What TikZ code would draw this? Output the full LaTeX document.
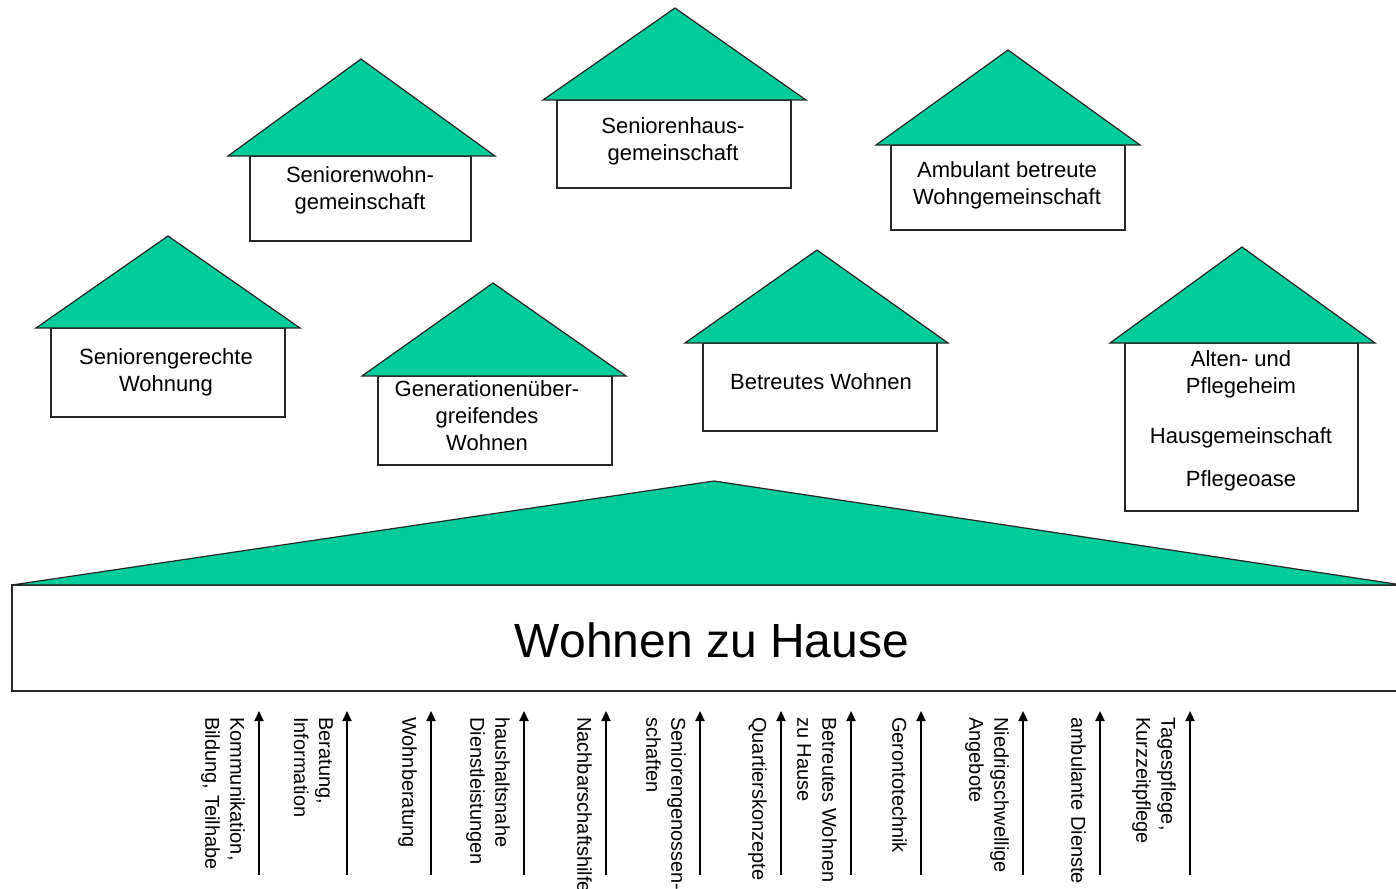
\documentclass[tikz,border=0pt]{standalone}
\usepackage{fontspec}
\setmainfont{Liberation Sans}
\usetikzlibrary{arrows.meta,calc}
\definecolor{roofgreen}{RGB}{0,204,153}
\begin{document}
\begin{tikzpicture}[x=1pt,y=-1pt,
  roof/.style={fill=roofgreen,draw=black!85,line width=1.2pt,line join=miter},
  boxs/.style={draw=black!85,line width=1.2pt,fill=white,inner sep=0pt},
  htext/.style={font=\fontsize{22}{27}\selectfont,align=center,inner sep=0pt},
  lbl/.style={font=\fontsize{20}{25}\selectfont,align=left,rotate=-90,anchor=north west,inner sep=0pt},
  up/.style={line width=2.2pt,-{Triangle[length=10pt,width=9pt]}}]
\useasboundingbox (0,0) rectangle (1396,888);
\clip (0,0) rectangle (1396,888);

% house 1
\node[boxs,minimum width=234pt,minimum height=89pt] (h1) at (168,372.5) {};
\draw[roof] (36,328) -- (168,236) -- (300,328) -- cycle;
\node[htext] (t1) at (166,372) {Seniorengerechte\\Wohnung};

% house 2
\node[boxs,minimum width=221pt,minimum height=85pt] (h2) at (360.5,198.5) {};
\draw[roof] (228,156) -- (361,59) -- (495,156) -- cycle;
\node[htext] (t2) at (360,190) {Seniorenwohn-\\gemeinschaft};

% house 3
\node[boxs,minimum width=234pt,minimum height=88pt] (h3) at (674,144) {};
\draw[roof] (543,100) -- (675,8) -- (806,100) -- cycle;
\node[htext] (t3) at (673,141) {Seniorenhaus-\\gemeinschaft};

% house 4
\node[boxs,minimum width=234pt,minimum height=85pt] (h4) at (1008,187.5) {};
\draw[roof] (876,145) -- (1008,50) -- (1140,145) -- cycle;
\node[htext] (t4) at (1007,185) {Ambulant betreute\\Wohngemeinschaft};

% house 5
\node[boxs,minimum width=234pt,minimum height=89pt] (h5) at (495,420.5) {};
\draw[roof] (362,376) -- (493,283) -- (626,376) -- cycle;
\node[htext] (t5) at (487,416) {Generationenüber-\\greifendes\\Wohnen};

% house 6
\node[boxs,minimum width=234pt,minimum height=88pt] (h6) at (820,387) {};
\draw[roof] (685,343) -- (817,250) -- (948,343) -- cycle;
\node[htext] (t6) at (821,382) {Betreutes Wohnen};

% house 7
\node[boxs,minimum width=233pt,minimum height=168pt] (h7) at (1241.5,427) {};
\draw[roof] (1110,343) -- (1242,247) -- (1375,343) -- cycle;
\node[htext] (t7a) at (1241,374.5) {Alten- und\\Pflegeheim};
\node[htext] (t7b) at (1241,438) {Hausgemeinschaft};
\node[htext] (t7c) at (1241,481) {Pflegeoase};

% big home
\node[boxs,minimum width=1390pt,minimum height=106pt] (home) at (707,638) {};
\draw[roof] (12,585) -- (714,481) -- (1402,585) -- cycle;
\node[inner sep=0pt,font=\fontsize{48}{56}\selectfont] (hometext) at (712,640) {Wohnen zu Hause};

% arrows and labels
\foreach \i/\x/\t in {
  1/259/{Kommunikation,\\Bildung, Teilhabe},
  2/347/{Beratung,\\Information},
  3/431/{Wohnberatung},
  4/524/{haushaltsnahe\\Dienstleistungen},
  5/606/{Nachbarschaftshilfe},
  6/700/{Seniorengenossen-\\schaften},
  7/781/{Quartierskonzepte},
  8/851/{Betreutes Wohnen\\zu Hause},
  9/921/{Gerontotechnik},
  10/1023/{Niedrigschwellige\\Angebote},
  11/1100/{ambulante Dienste},
  12/1190/{Tagespflege,\\Kurzzeitpflege}}{
  \coordinate (b\i) at (\x,875);
  \coordinate (e\i) at (\x,711);
  \draw[up] (b\i) -- (e\i);
  \node[lbl] (l\i) at (\x-14,717) {\t};
}
\end{tikzpicture}
\end{document}
